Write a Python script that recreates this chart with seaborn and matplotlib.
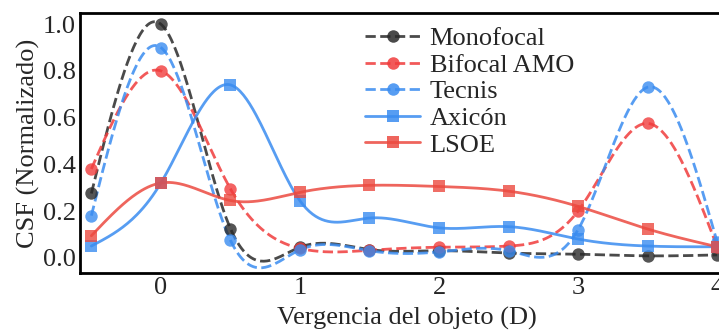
import numpy as np
import pandas as pd
import matplotlib
matplotlib.use("Agg")
import matplotlib.pyplot as plt
from matplotlib.lines import Line2D
import seaborn as sns

# ---- data ----
vergencia = [-0.5, 0.0, 0.5, 1.0, 1.5, 2.0, 2.5, 3.0, 3.5, 4.0]
monofocal = [0.275, 1.00, 0.125, 0.045, 0.035, 0.030, 0.020, 0.015, 0.008, 0.012]
bifocal_amo = [0.38, 0.80, 0.295, 0.040, 0.032, 0.045, 0.050, 0.200, 0.575, 0.047]
tecnis = [0.180, 0.90, 0.075, 0.034, 0.030, 0.025, 0.030, 0.120, 0.730, 0.068]
axicon = [0.050, 0.32, 0.740, 0.244, 0.170, 0.128, 0.133, 0.080, 0.050, 0.047]
lsoe = [0.094, 0.32, 0.245, 0.280, 0.310, 0.305, 0.285, 0.220, 0.123, 0.047]

series_names = ["Monofocal", "Bifocal AMO", "Tecnis", "Axicón", "LSOE"]
series_vals = [monofocal, bifocal_amo, tecnis, axicon, lsoe]
x_ticks = [0, 1, 2, 3, 4]
y_ticks = [0.0, 0.2, 0.4, 0.6, 0.8, 1.0]

# ---- styles ----
styles = {
    "Monofocal": dict(color="#2a2a2a", ls="--", marker="o"),
    "Bifocal AMO": dict(color="#f03c3c", ls="--", marker="o"),
    "Tecnis": dict(color="#3a8cf0", ls="--", marker="o"),
    "Axicón": dict(color="#3a8cf0", ls="-", marker="s"),
    "LSOE": dict(color="#ec4a40", ls="-", marker="s"),
}


def natural_spline(x, y, xs):
    x = np.asarray(x, float)
    y = np.asarray(y, float)
    n = len(x)
    h = np.diff(x)
    A = np.zeros((n, n))
    b = np.zeros(n)
    A[0, 0] = 1
    A[-1, -1] = 1
    for i in range(1, n - 1):
        A[i, i - 1] = h[i - 1]
        A[i, i] = 2 * (h[i - 1] + h[i])
        A[i, i + 1] = h[i]
        b[i] = 6 * ((y[i + 1] - y[i]) / h[i] - (y[i] - y[i - 1]) / h[i - 1])
    M = np.linalg.solve(A, b)
    out = np.empty_like(xs)
    idx = np.clip(np.searchsorted(x, xs) - 1, 0, n - 2)
    for k, (xv, i) in enumerate(zip(xs, idx)):
        hi = h[i]
        t1 = x[i + 1] - xv
        t0 = xv - x[i]
        out[k] = (M[i] * t1 ** 3 / (6 * hi) + M[i + 1] * t0 ** 3 / (6 * hi)
                  + (y[i] / hi - M[i] * hi / 6) * t1
                  + (y[i + 1] / hi - M[i + 1] * hi / 6) * t0)
    return out


sns.set_theme(style="white")
plt.rcParams["font.family"] = ["Liberation Serif", "DejaVu Serif"]

FS = 19

fig = plt.figure(figsize=(7.19, 3.32), dpi=100)
# the original figure is cropped on the right: the axes run past the edge
ax = fig.add_axes([0.111, 0.178, 0.9096, 0.783])

xs = np.linspace(vergencia[0], vergencia[-1], 400)
handles = []
for name, vals in zip(series_names, series_vals):
    st = styles[name]
    smooth = pd.DataFrame({"x": xs, "y": natural_spline(vergencia, vals, xs)})
    pts = pd.DataFrame({"x": vergencia, "y": vals})
    sns.lineplot(data=smooth, x="x", y="y", ax=ax, color=st["color"],
                 linestyle=st["ls"], linewidth=2.0, alpha=0.85, sort=False)
    sns.scatterplot(data=pts, x="x", y="y", ax=ax, color=st["color"],
                    marker=st["marker"], s=80, alpha=0.8, linewidth=0,
                    zorder=3)
    handles.append(Line2D([0], [0], color=st["color"], ls=st["ls"], lw=2.0,
                          marker=st["marker"], markersize=9, alpha=0.85,
                          markeredgewidth=0))

ax.set_xlim(-0.583, 4.12)
ax.set_ylim(-0.065, 1.048)
ax.set_xticks(x_ticks)
ax.set_xticklabels([str(t) for t in x_ticks])
ax.set_yticks(y_ticks)
ax.set_yticklabels([f"{t:.1f}" for t in y_ticks])
ax.tick_params(axis="both", labelsize=FS, length=0, pad=3)
ax.set_xlabel("Vergencia del objeto (D)", fontsize=FS, labelpad=6)
ax.set_ylabel("CSF (Normalizado)", fontsize=FS, labelpad=2)
for sp in ax.spines.values():
    sp.set_color("black")
    sp.set_linewidth(2.0)

leg = ax.legend(handles, series_names, loc="upper left",
                bbox_to_anchor=(0.415, 1.0), frameon=False, fontsize=FS,
                handlelength=2.1, handletextpad=0.35, labelspacing=0.12,
                numpoints=1, borderaxespad=0.12)

fig.savefig("out.png", dpi=100)
